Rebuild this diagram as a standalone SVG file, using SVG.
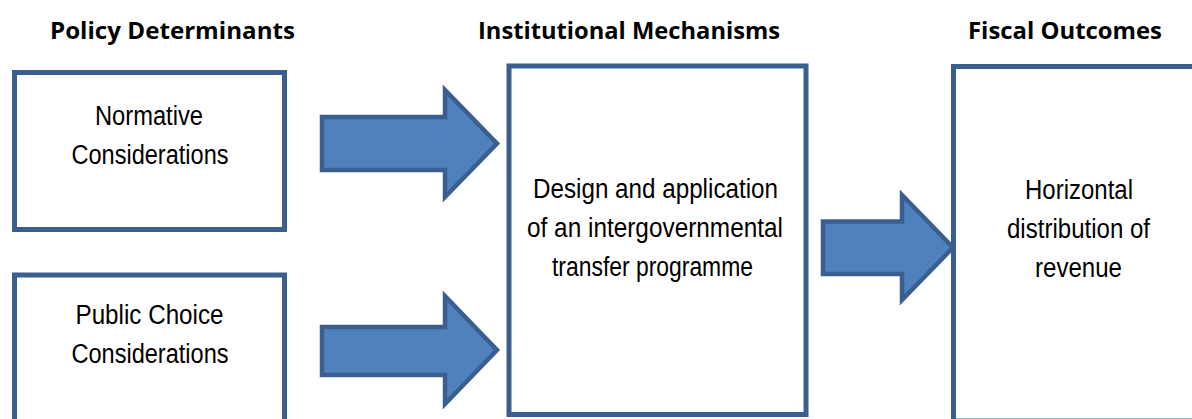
<svg xmlns="http://www.w3.org/2000/svg" width="1192" height="419" viewBox="0 0 1192 419">
<style>
.box{fill:#ffffff;stroke:#3A5F8F;stroke-width:5}
.arr{fill:#4F81BD;stroke:#3A5F8F;stroke-width:4.5;stroke-linejoin:miter}
.hdr{font-family:"Open Sans","Liberation Sans",sans-serif;font-weight:bold;font-size:23px;fill:#000;text-anchor:middle}
.lbl{font-family:"Liberation Sans",Arial,sans-serif;font-size:27px;fill:#000;text-anchor:middle}
</style>
<rect width="1192" height="419" fill="#ffffff"/>
<g id="headers">
<text class="hdr" x="172.5" y="39" textLength="245" lengthAdjust="spacingAndGlyphs">Policy Determinants</text>
<text class="hdr" x="629" y="39" textLength="302" lengthAdjust="spacingAndGlyphs">Institutional Mechanisms</text>
<text class="hdr" x="1065" y="39" textLength="194" lengthAdjust="spacingAndGlyphs">Fiscal Outcomes</text>
</g>
<g id="normative">
<rect class="box" x="14.5" y="72.5" width="270" height="157"/>
<text class="lbl" x="149" y="125" textLength="108" lengthAdjust="spacingAndGlyphs">Normative</text>
<text class="lbl" x="150" y="164" textLength="157" lengthAdjust="spacingAndGlyphs">Considerations</text>
</g>
<g id="publicchoice">
<rect class="box" x="14.5" y="275" width="270" height="160"/>
<text class="lbl" x="149.5" y="324" textLength="148" lengthAdjust="spacingAndGlyphs">Public Choice</text>
<text class="lbl" x="150" y="363" textLength="157" lengthAdjust="spacingAndGlyphs">Considerations</text>
</g>
<g id="mechanism">
<rect class="box" x="509" y="66" width="297" height="348.5"/>
<text class="lbl" x="655.5" y="198" textLength="245" lengthAdjust="spacingAndGlyphs">Design and application</text>
<text class="lbl" x="655" y="237" textLength="256" lengthAdjust="spacingAndGlyphs">of an intergovernmental</text>
<text class="lbl" x="652.5" y="276" textLength="201" lengthAdjust="spacingAndGlyphs">transfer programme</text>
</g>
<g id="outcome">
<rect class="box" x="953.5" y="66.5" width="250" height="354.5"/>
<text class="lbl" x="1079" y="199" textLength="108" lengthAdjust="spacingAndGlyphs">Horizontal</text>
<text class="lbl" x="1078.5" y="238" textLength="143" lengthAdjust="spacingAndGlyphs">distribution of</text>
<text class="lbl" x="1078.5" y="277" textLength="87" lengthAdjust="spacingAndGlyphs">revenue</text>
</g>
<g id="connectors">
<polygon class="arr" points="322,117 445,117 445,90 497,143.5 445,197 445,170 322,170"/>
<polygon class="arr" points="322,327 445,327 445,296 497,350 445,404 445,375 322,375"/>
<polygon class="arr" points="823,221.5 902,221.5 902,195 953,247.5 902,300 902,274 823,274"/>
</g>
</svg>
